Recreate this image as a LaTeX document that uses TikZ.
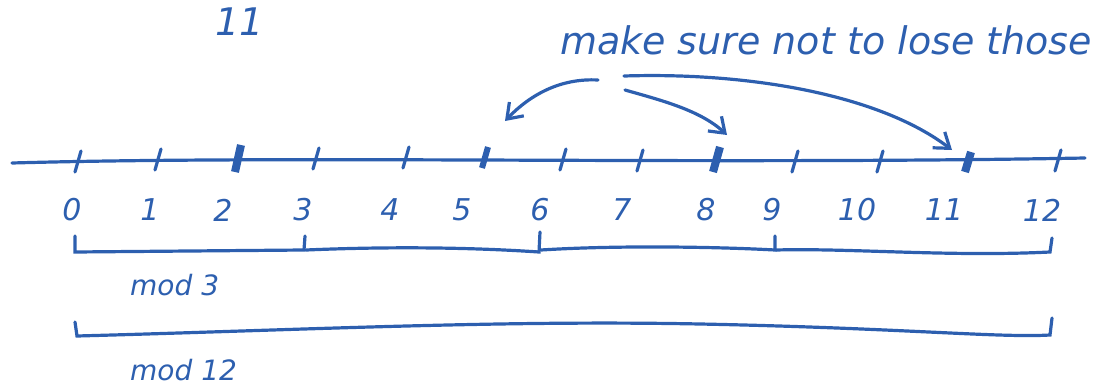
\documentclass[tikz,border=0pt]{standalone}
\usepackage{fontspec}
\setmainfont{DejaVu Sans}
\usetikzlibrary{arrows.meta,calc}
\definecolor{ink}{RGB}{45,95,175}
\begin{document}
\begin{tikzpicture}[x=1pt,y=-1pt,
  ink/.style={draw=ink,line width=3.2pt,line cap=round},
  tck/.style={ink},
  tickthick/.style={ink,line width=8pt,line cap=butt},
  lbl/.style={text=ink,font=\itshape\fontsize{30}{32}\selectfont,inner sep=0pt},
  modl/.style={text=ink,font=\itshape\fontsize{28}{30}\selectfont,inner sep=0pt},
  note/.style={text=ink,font=\itshape\fontsize{38}{40}\selectfont,inner sep=0pt},
  arr/.style={ink,-{Straight Barb[length=14pt,width=20pt,line width=3.2pt]}}]
\useasboundingbox (0,0) rectangle (1103,388);
% main line
\coordinate (L) at (12,163);
\coordinate (R) at (1085,158);
\draw[ink] (L) .. controls (300,155) and (700,165) .. (R);
% ticks
\foreach \i/\x/\yy in {0/78/161,1/158/159,3/316/158,4/406/157,6/563/159,7/640/160,9/795/161,10/880/161,12/1058/160}{
  \coordinate (t\i) at (\x,\yy);
  \draw[tck] ($(t\i)+(3,-10)$) -- ($(t\i)+(-3,11)$);
}
\foreach \i/\x/\yy in {2/238/158,5/485/158,8/716/160,11/968/162}{
  \coordinate (t\i) at (\x,\yy);
}
\draw[tickthick] (241,145) -- (235,172);
\draw[tickthick,line width=6pt] (488,147) -- (482,168);
\draw[tickthick] (720,147) -- (713,172);
\draw[tickthick] (971,152) -- (965,172);
% labels
\foreach \n/\x in {0/72,1/150,2/223,3/303,4/390,5/462,6/540,7/622,8/706,9/772,10/857,11/944,12/1042}{
  \node[lbl] (n\n) at (\x,210) {\n};
}
% mod 3 bracket
\coordinate (a0) at (75,236); \coordinate (a1) at (305,236);
\coordinate (a2) at (540,232); \coordinate (a3) at (775,236); \coordinate (a4) at (1052,238);
\draw[ink] (a0) -- (75,252) -- (304,250) -- (a1);
\draw[ink] (306,250) .. controls (400,246) and (480,248) .. (539,252) -- (a2);
\draw[ink] (541,250) .. controls (620,245) and (720,247) .. (775,250) -- (a3);
\draw[ink] (776,250) .. controls (850,248) and (950,257) .. (1050,252) -- (a4);
\node[modl,anchor=west] (m3) at (130,285) {mod 3};
% mod 12 bracket
\coordinate (b0) at (75,322); \coordinate (b1) at (1052,318);
\draw[ink] (b0) -- (77,336) .. controls (300,330) and (500,320) .. (700,324) .. controls (900,328) and (1000,338) .. (1050,335) -- (b1);
\node[modl,anchor=west] (m12) at (130,370) {mod 12};
% texts
\node[note] (e) at (240,22) {11};
\node[note,anchor=west] (t) at (560,40) {make sure not to lose those};
% arrows
\coordinate (s1) at (598,80);
\coordinate (s2) at (625,90);
\coordinate (s3) at (624,76);
\draw[arr] (s1) .. controls (560,78) and (530,95) .. (505,121);
\draw[arr] (s2) .. controls (660,100) and (700,110) .. (727,135);
\draw[arr] (s3) .. controls (750,72) and (880,95) .. (952,150);
\end{tikzpicture}
\end{document}
